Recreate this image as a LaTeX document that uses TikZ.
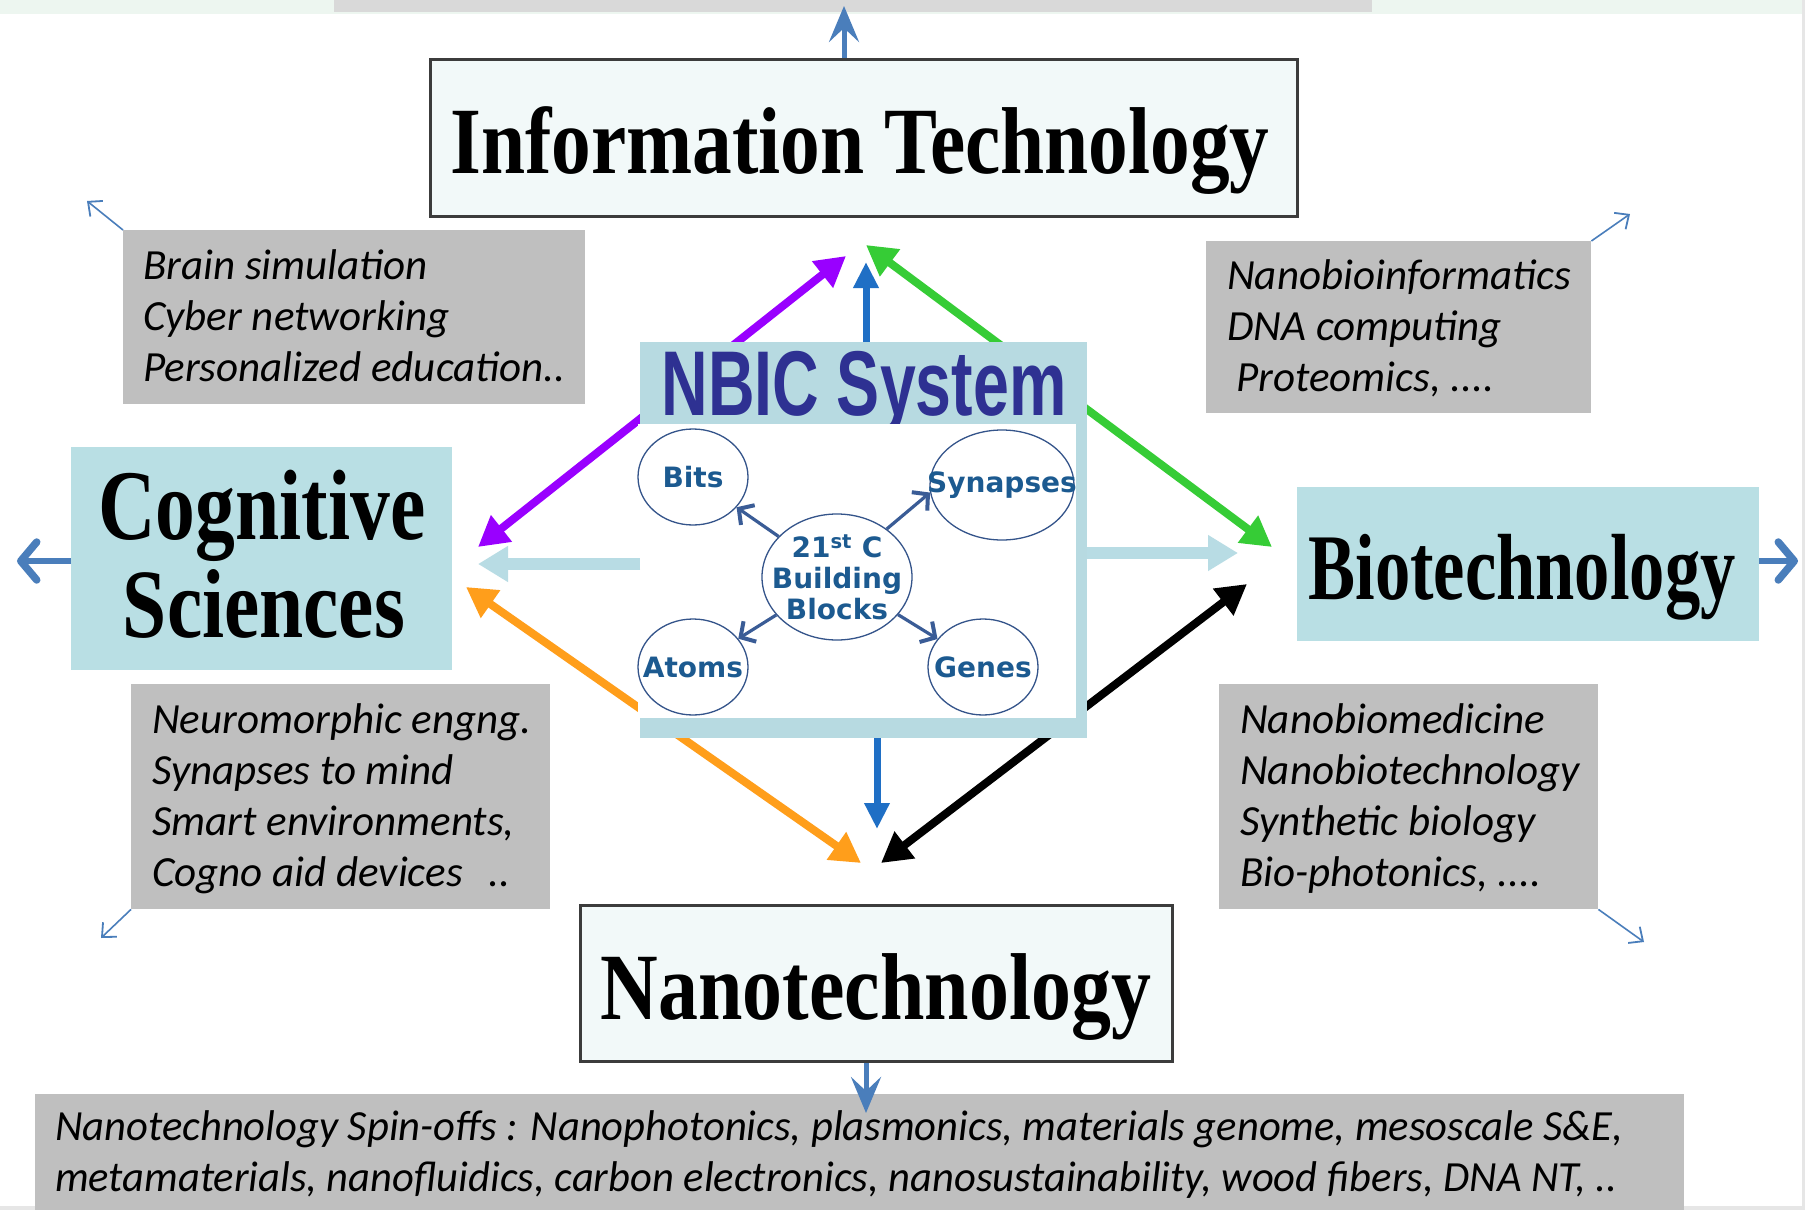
\documentclass[tikz,border=0pt]{standalone}
\usepackage{fontspec}
\setmainfont{Liberation Serif}
\newfontfamily\calfont{Carlito}
\newfontfamily\headsans{Liberation Sans}
\newfontfamily\blobfont{DejaVu Sans}
\usetikzlibrary{arrows.meta,shapes.geometric}

\definecolor{cogfill}{HTML}{B9DFE4}
\definecolor{nbicfill}{HTML}{B7DAE1}
\definecolor{boxgray}{HTML}{BFBFBF}
\definecolor{titlefill}{HTML}{F2F9F9}
\definecolor{titleedge}{HTML}{3C3C3C}
\definecolor{nbicblue}{HTML}{2E3192}
\definecolor{blobblue}{HTML}{1C5A90}
\definecolor{blobedge}{HTML}{34548A}
\definecolor{coreline}{HTML}{3A5C96}
\definecolor{outblue}{HTML}{4A7EBB}
\definecolor{midblue}{HTML}{1F6FC5}
\definecolor{paleblue}{HTML}{B8DCE4}
\definecolor{arrviolet}{HTML}{9900FF}
\definecolor{arrgreen}{HTML}{36CC36}
\definecolor{arrorange}{HTML}{FF9E1B}
\definecolor{stripgreen}{HTML}{EDF6F0}
\definecolor{stripgray}{HTML}{D9D9D9}
\definecolor{edgegray}{HTML}{E6E6E6}

\begin{document}
\begin{tikzpicture}[x=1pt,y=-1pt,
  graybox/.style={fill=boxgray, draw=none, inner sep=0, anchor=north west},
  graytext/.style={font=\calfont\itshape\fontsize{43}{51}\selectfont, inner sep=0, anchor=base west},
  titlebox/.style={fill=titlefill, draw=titleedge, line width=3pt, inner sep=0, anchor=north west},
  fieldbox/.style={fill=cogfill, draw=none, inner sep=0, anchor=north west},
  titletext/.style={font=\bfseries\fontsize{95}{95}\selectfont, inner sep=0, anchor=base},
  blob/.style={ellipse, draw=blobedge, line width=1.3pt, fill=white, inner sep=0},
  blobtext/.style={font=\blobfont\bfseries\fontsize{28}{31}\selectfont, text=blobblue, inner sep=0, align=center},
  fatarrow/.style={line width=8pt, {Triangle[length=30pt,width=32pt]}-{Triangle[length=30pt,width=32pt]}},
  riserarrow/.style={midblue, line width=7pt, -{Triangle[length=26pt,width=24pt]}},
  palearrow/.style={paleblue, line width=12pt, -{Triangle[length=30pt,width=34pt]}},
  outarrow/.style={outblue, line width=5pt, -{Stealth[length=36pt,width=30pt,inset=14pt]}},
  sidearrow/.style={outblue, line width=6pt, -{Straight Barb[length=16pt,width=38pt,line width=7.5pt,round]}},
  thinarrow/.style={outblue, line width=1.6pt, -{Straight Barb[length=11pt,width=20pt,line width=1.8pt]}},
  corearrow/.style={coreline, line width=3.2pt, -{Straight Barb[length=11pt,width=24pt,line width=4pt]}}
]
\useasboundingbox (0,0) rectangle (1805,1210);
\fill[white] (0,0) rectangle (1805,1210);

% top strip and edges
\fill[stripgreen] (0,0) rectangle (1805,14);
\fill[stripgray] (334,0) rectangle (1372,12);
\fill[edgegray] (0,1206) rectangle (1805,1210);
\fill[edgegray] (1802,0) rectangle (1805,1210);

% grey application boxes
\node[graybox, minimum width=462pt, minimum height=174pt] (tl) at (123,230) {};
\node[graybox, minimum width=385pt, minimum height=172pt] (tr) at (1206,241) {};
\node[graybox, minimum width=419pt, minimum height=225pt] (bl) at (131,684) {};
\node[graybox, minimum width=379pt, minimum height=225pt] (br) at (1219,684) {};
\node[graybox, minimum width=1649pt, minimum height=116pt] (spin) at (35,1094) {};

\node[graytext] (tltxt) at (143,279) {\parbox[t]{440pt}{Brain simulation\\Cyber networking\\Personalized education..}};
\node[graytext] (trtxt) at (1227,289) {\parbox[t]{360pt}{Nanobioinformatics\\DNA computing\\\hspace*{9pt}Proteomics, ....}};
\node[graytext] (bltxt) at (152,733) {\parbox[t]{400pt}{Neuromorphic engng.\\Synapses to mind\\Smart environments,\\Cogno aid devices\hspace{0.6em}..}};
\node[graytext] (brtxt) at (1240,733) {\parbox[t]{360pt}{Nanobiomedicine\\Nanobiotechnology\\Synthetic biology\\Bio-photonics, ....}};
\node[graytext] (spintxt) at (55,1140) {\parbox[t]{1620pt}{%
  \resizebox{1568pt}{\height}{Nanotechnology Spin-offs : Nanophotonics, plasmonics, materials genome, mesoscale S\&E,}\\
  \resizebox{1562pt}{\height}{metamaterials, nanofluidics, carbon electronics, nanosustainability, wood fibers, DNA NT, ..}}};

% the four fields
\node[titlebox, minimum width=867pt, minimum height=157pt] (it) at (429,58) {};
\node[titletext] (ittxt) at (860,173) {\resizebox{819pt}{\height}{Information Technology}};

\node[titlebox, minimum width=592pt, minimum height=156pt] (nano) at (579,904) {};
\node[titletext] (nanotxt) at (876,1019) {\resizebox{550pt}{\height}{Nanotechnology}};

\node[fieldbox, minimum width=381pt, minimum height=223pt] (cog) at (71,447) {};
\node[titletext, font=\bfseries\fontsize{100}{100}\selectfont] (cogtxta) at (262,539) {\resizebox{327pt}{\height}{Cognitive}};
\node[titletext, font=\bfseries\fontsize{98}{98}\selectfont] (cogtxtb) at (264,637) {\resizebox{282pt}{\height}{Sciences}};

\node[fieldbox, minimum width=462pt, minimum height=154pt] (bio) at (1297,487) {};
\node[titletext, font=\bfseries\fontsize{94}{94}\selectfont] (biotxt) at (1522,599) {\resizebox{427pt}{\height}{Biotechnology}};

% convergence arrows between the fields
\coordinate (violetA) at (846,256);
\coordinate (violetB) at (478,547);
\coordinate (greenA) at (866,245);
\coordinate (greenB) at (1272,547);
\coordinate (orangeA) at (466,587);
\coordinate (orangeB) at (861,863);
\coordinate (blackA) at (881,863);
\coordinate (blackB) at (1247,584);
\draw[fatarrow, arrviolet] (violetA) -- (violetB);
\draw[fatarrow, arrgreen] (greenA) -- (greenB);
\draw[fatarrow, arrorange] (orangeA) -- (orangeB);
\draw[fatarrow, black] (blackA) -- (blackB);

% NBIC system panel
\node[fill=nbicfill, draw=none, inner sep=0, anchor=north west, minimum width=447pt, minimum height=396pt] (nbic) at (640,342) {};
\node[inner sep=0, anchor=base, text=nbicblue, font=\headsans\bfseries\fontsize{92}{92}\selectfont] (nbictxt) at (864,415) {\resizebox{405pt}{\height}{NBIC System}};
\node[fill=white, draw=none, inner sep=0, anchor=north west, minimum width=438pt, minimum height=294pt] (panel) at (638,424) {};

\node[blob, minimum width=110pt, minimum height=96pt, label={[blobtext]center:Bits}] (bits) at (693,477) {};
\node[blob, minimum width=144pt, minimum height=110pt, label={[blobtext]center:Synapses}] (syn) at (1002,485) {};
\node[blob, minimum width=110pt, minimum height=96pt, label={[blobtext]center:Atoms}] (atoms) at (693,667) {};
\node[blob, minimum width=110pt, minimum height=96pt, label={[blobtext]center:Genes}] (genes) at (983,667) {};
\node[blob, minimum width=150pt, minimum height=126pt, label={[blobtext]center:{21\textsuperscript{st} C\\Building\\Blocks}}] (core) at (837,577) {};

\draw[corearrow] (core) -- (bits);
\draw[corearrow] (core.44) -- (syn.186);
\draw[corearrow] (core) -- (atoms);
\draw[corearrow] (core) -- (genes);

% arrows leaving the panel
\coordinate (riseTop) at (866,262);
\coordinate (riseBot) at (877,829);
\coordinate (paleL) at (478,564);
\coordinate (paleR) at (1238,553);
\draw[riserarrow] (nbic.north -| riseTop) -- (riseTop);
\draw[riserarrow] (nbic.south -| riseBot) -- (riseBot);
\draw[palearrow] (nbic.west |- paleL) -- (paleL);
\draw[palearrow] (nbic.east |- paleR) -- (paleR);

% outward arrows of the fields
\coordinate (itUp) at (844,6);
\coordinate (nanoDown) at (866,1113);
\coordinate (cogLeft) at (17,561);
\coordinate (bioRight) at (1798,561);
\draw[outarrow] (it.north -| itUp) -- (itUp);
\draw[outarrow] (nano.south -| nanoDown) -- (nanoDown);
\draw[sidearrow] (cog.west |- cogLeft) -- (cogLeft);
\draw[sidearrow] (bio.east |- bioRight) -- (bioRight);

% thin corner arrows of the grey boxes
\coordinate (tlc) at (87,201);
\coordinate (trc) at (1630,214);
\coordinate (blc) at (101,938);
\coordinate (brc) at (1644,942);
\draw[thinarrow] (tl.north west) -- (tlc);
\draw[thinarrow] (tr.north east) -- (trc);
\draw[thinarrow] (bl.south west) -- (blc);
\draw[thinarrow] (br.south east) -- (brc);
\end{tikzpicture}
\end{document}
